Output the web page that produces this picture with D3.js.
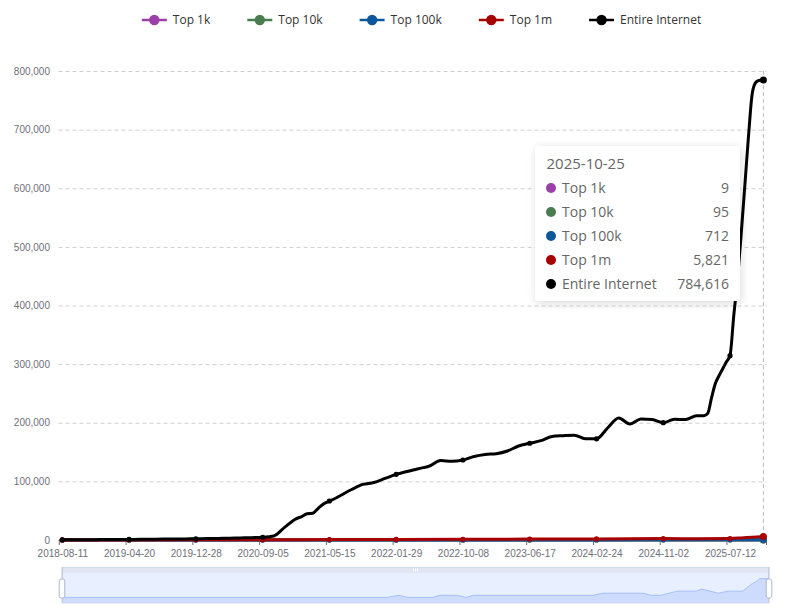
<!DOCTYPE html>
<html>
<head>
<meta charset="utf-8">
<script src="https://cdn.jsdelivr.net/npm/d3@7"></script>
<style>
  body { margin: 0; background: #fff; }
  svg { display: block; }
</style>
</head>
<body>
<svg id="chart"></svg>
<script>
// categories / ticks
const seriesNames = ["Top 1k", "Top 10k", "Top 100k", "Top 1m", "Entire Internet"]
const seriesColors = ["#9b3fa9", "#4b7c50", "#0c5799", "#a70000", "#000000"]
const tickIdx = [0, 36, 72, 108, 144, 180, 216, 252, 288, 324, 360]
const tickLabels = ["2018-08-11", "2019-04-20", "2019-12-28", "2020-09-05", "2021-05-15", "2022-01-29",
  "2022-10-08", "2023-06-17", "2024-02-24", "2024-11-02", "2025-07-12"]
const lastIdx = 378
const lastDate = "2025-10-25"
const yTicks = [0, 100000, 200000, 300000, 400000, 500000, 600000, 700000, 800000]

// Entire Internet (sampled weeks)
const entireIdx = [0, 6, 12, 18, 24, 30, 36, 42, 48, 54, 60, 66, 72, 78, 84, 90, 96, 102, 108, 114,
  120, 126, 129, 132, 135, 138, 141, 144, 147, 150, 156, 162, 168, 174, 180, 186, 192, 198, 204, 210,
  216, 222, 228, 234, 240, 246, 252, 258, 264, 270, 276, 282, 288, 294, 300, 306, 312, 318, 324, 330,
  336, 342, 346, 348, 350, 352, 354, 356, 358, 360, 362, 364, 366, 368, 370, 372, 374, 376, 378]
const entire = [300, 400, 500, 600, 700, 800, 900, 1100, 1300, 1500, 1700, 1900, 2100, 2400, 2700, 3100, 3500, 4000, 4600, 6800,
  22000, 36000, 40000, 44700, 45500, 54000, 62000, 66500, 70800, 75900, 86100, 94800, 98000, 105000, 112000, 116900, 121600, 126200, 135600, 134300,
  136500, 142400, 145900, 147200, 151800, 160400, 165000, 169400, 176600, 177900, 178800, 172800, 172600, 191000, 208100, 197900, 206400, 205500, 200100, 205900,
  205500, 212000, 212000, 216000, 242000, 266000, 279800, 291700, 303600, 314400, 382000, 443500, 521000, 605000, 690000, 762000, 781000, 784300, 784616]

// smaller series (sampled at ticks)
const smallIdx = [0, 36, 72, 108, 144, 180, 216, 252, 288, 324, 342, 360, 366, 372, 378]
const top1m = [80, 150, 250, 400, 650, 900, 1200, 1500, 1900, 2400, 2000, 2500, 3500, 4800, 5821]
const top100k = [10, 15, 25, 40, 60, 80, 110, 150, 200, 280, 260, 330, 420, 560, 712]
const top10k = [1, 2, 3, 5, 7, 9, 12, 16, 22, 30, 32, 40, 52, 72, 95]

// Top 1k (change points)
const top1kIdx = [0, 174, 180, 185, 198, 202, 211, 216, 220, 284, 289, 311, 315, 320, 329, 339, 342, 351, 356, 364, 368, 372, 373, 378]
const top1k = [0, 0, 1, 0, 0, 1, 1, 0, 1, 1, 2, 2, 1, 1, 3, 3, 4, 2, 3, 3, 6, 8, 9, 9]

const width = 796
const height = 615
const gridLeft = 58.5
const gridRight = 766.5
const gridTop = 71
const gridBottom = 540
const fontUI = "'Open Sans', 'Noto Sans', sans-serif"
const fontAxis = "'Liberation Sans', Arial, sans-serif"

const svg = d3.select("#chart")
  .attr("width", width)
  .attr("height", height)

const xScale = d3.scaleLinear().domain([0, lastIdx]).range([62.3, 763.4])
const yScale = d3.scaleLinear().domain([0, 800000]).range([gridBottom, gridTop])

const zip = (a, b) => a.map((d, i) => [d, b[i]])
const series = [
  zip(top1kIdx, top1k),
  zip(smallIdx, top10k),
  zip(smallIdx, top100k),
  zip(smallIdx, top1m),
  zip(entireIdx, entire)
]

// grid lines
svg.append("g")
  .selectAll("line")
  .data(yTicks.filter(d => d > 0))
  .enter()
  .append("line")
  .attr("x1", gridLeft)
  .attr("x2", gridRight)
  .attr("y1", d => yScale(d) + 0.5)
  .attr("y2", d => yScale(d) + 0.5)
  .attr("stroke", "#cfcfcf")
  .attr("stroke-dasharray", "4,3")

// y axis labels
let yAxis = d3.axisLeft(yScale)
  .tickValues(yTicks)
  .tickFormat(d3.format(","))
  .tickSize(0)
  .tickPadding(8.5)
let yG = svg.append("g")
  .attr("transform", "translate(" + gridLeft + ",0)")
  .call(yAxis)
yG.select(".domain").remove()
yG.selectAll("text")
  .attr("fill", "#6e7079")
  .style("font-family", fontAxis)
  .style("font-size", "10px")

// axis pointer
svg.append("line")
  .attr("x1", xScale(lastIdx))
  .attr("x2", xScale(lastIdx))
  .attr("y1", gridTop)
  .attr("y2", gridBottom)
  .attr("stroke", "#b9bec9")
  .attr("stroke-dasharray", "4,3")

// x axis
let xAxis = d3.axisBottom(xScale)
  .tickValues(tickIdx)
  .tickFormat((d, i) => tickLabels[i])
  .tickSize(5)
  .tickPadding(5)
let xG = svg.append("g")
  .attr("transform", "translate(0," + gridBottom + ")")
  .call(xAxis)
xG.select(".domain").remove()
xG.selectAll(".tick line")
  .attr("stroke", "#6e7079")
  .attr("transform", "translate(-3.5,0)")
xG.selectAll("text")
  .attr("fill", "#6e7079")
  .style("font-family", fontAxis)
  .style("font-size", "10px")
xG.append("line")
  .attr("x1", gridLeft)
  .attr("x2", gridRight)
  .attr("y1", 0.5)
  .attr("y2", 0.5)
  .attr("stroke", "#6e7079")
xG.append("line")
  .attr("x1", gridRight)
  .attr("x2", gridRight)
  .attr("y1", 0)
  .attr("y2", 5)
  .attr("stroke", "#6e7079")

// lines + markers
let line = d3.line()
  .x(d => xScale(d[0]))
  .y(d => yScale(d[1]))
  .curve(d3.curveMonotoneX)

series.forEach((data, s) => {
  let g = svg.append("g")
  g.append("path")
    .datum(data)
    .attr("d", line)
    .attr("fill", "none")
    .attr("stroke", seriesColors[s])
    .attr("stroke-width", 3)
    .attr("stroke-linejoin", "round")
    .attr("stroke-linecap", "round")
  g.selectAll("circle")
    .data(data.filter(d => tickIdx.includes(d[0]) || d[0] == lastIdx))
    .enter()
    .append("circle")
    .attr("cx", d => xScale(d[0]))
    .attr("cy", d => yScale(d[1]))
    .attr("r", d => d[0] == lastIdx ? 3.5 : 2.6)
    .attr("fill", seriesColors[s])
})

// data zoom slider
const sLeft = 62, sRight = 769, sTop = 573, sBottom = 603
let sx = d3.scaleLinear().domain([0, lastIdx]).range([sLeft, sRight])
let ext = d3.extent(top1k)
let pad = (ext[1] - ext[0]) * 0.3
let sy = d3.scaleLinear().domain([ext[0] - pad, ext[1] + pad]).range([sBottom, sTop])

let slider = svg.append("g")
slider.append("rect")
  .attr("x", sLeft).attr("y", 567)
  .attr("width", sRight - sLeft).attr("height", sTop - 567)
  .attr("fill", "#dfe5f2")
slider.append("rect")
  .attr("x", sLeft).attr("y", sTop)
  .attr("width", sRight - sLeft).attr("height", sBottom - sTop)
  .attr("fill", "#e8effe")
let shadow = zip(top1kIdx, top1k)
slider.append("path")
  .datum(shadow)
  .attr("d", d3.area().x(d => sx(d[0])).y0(sBottom).y1(d => sy(d[1])))
  .attr("fill", "#8fb0f7")
  .attr("fill-opacity", 0.3)
slider.append("path")
  .datum(shadow)
  .attr("d", d3.line().x(d => sx(d[0])).y(d => sy(d[1])))
  .attr("fill", "none")
  .attr("stroke", "#8fb0f7")
  .attr("stroke-width", 0.7)
slider.append("rect")
  .attr("x", sLeft + 0.5).attr("y", 567.5)
  .attr("width", sRight - sLeft - 1).attr("height", sBottom - 567.5)
  .attr("fill", "none")
  .attr("stroke", "#d2dbee")
// grip on move handle
;[-2, 0, 2].forEach(o => {
  slider.append("line")
    .attr("x1", (sLeft + sRight) / 2 + o).attr("x2", (sLeft + sRight) / 2 + o)
    .attr("y1", 568.5).attr("y2", 571.5)
    .attr("stroke", "#ffffff")
})
;[sLeft, sRight].forEach(x => {
  slider.append("line")
    .attr("x1", x).attr("x2", x)
    .attr("y1", 567).attr("y2", sBottom)
    .attr("stroke", "#acb8d1")
    .attr("stroke-width", 0.8)
  slider.append("rect")
    .attr("x", x - 2.8).attr("y", 579)
    .attr("width", 5.6).attr("height", 19)
    .attr("rx", 2)
    .attr("fill", "#fff")
    .attr("stroke", "#acb8d1")
})

// legend
let legend = svg.append("g")
let items = seriesNames.map((name, i) => {
  let g = legend.append("g")
  g.append("line")
    .attr("x1", 0).attr("x2", 25)
    .attr("y1", 20).attr("y2", 20)
    .attr("stroke", seriesColors[i])
    .attr("stroke-width", 2.5)
  g.append("circle")
    .attr("cx", 12.5).attr("cy", 20).attr("r", 5.2)
    .attr("fill", seriesColors[i])
  let t = g.append("text")
    .attr("x", 31).attr("y", 24.2)
    .attr("fill", "#333")
    .style("font-family", fontUI)
    .style("font-size", "12px")
    .text(name)
  return { g: g, w: 31 + t.node().getComputedTextLength() }
})
let gap = 37
let total = d3.sum(items, d => d.w) + gap * (items.length - 1)
let cursor = 421.5 - total / 2
items.forEach(it => {
  it.g.attr("transform", "translate(" + cursor + ",0)")
  cursor += it.w + gap
})

// tooltip
let defs = svg.append("defs")
let filter = defs.append("filter").attr("id", "shadow")
  .attr("x", "-20%").attr("y", "-20%").attr("width", "140%").attr("height", "140%")
filter.append("feDropShadow")
  .attr("dx", 1).attr("dy", 2).attr("stdDeviation", 4)
  .attr("flood-color", "#000").attr("flood-opacity", 0.15)

let tip = svg.append("g").attr("transform", "translate(535,146)")
tip.append("rect")
  .attr("width", 205).attr("height", 155)
  .attr("rx", 4)
  .attr("fill", "#fff")
  .attr("filter", "url(#shadow)")
tip.append("text")
  .attr("x", 11.5).attr("y", 23)
  .attr("fill", "#666")
  .style("font-family", fontUI)
  .style("font-size", "15px")
  .text(lastDate)
let lastVals = series.map(d => d[d.length - 1][1])
seriesNames.forEach((name, i) => {
  let cy = 42 + i * 24
  tip.append("circle")
    .attr("cx", 16).attr("cy", cy).attr("r", 5)
    .attr("fill", seriesColors[i])
  tip.append("text")
    .attr("x", 27).attr("y", cy + 5)
    .attr("fill", "#666")
    .style("font-family", fontUI)
    .style("font-size", "14px")
    .text(name)
  tip.append("text")
    .attr("x", 194).attr("y", cy + 5)
    .attr("text-anchor", "end")
    .attr("fill", "#666")
    .style("font-family", fontUI)
    .style("font-size", "14px")
    .text(d3.format(",")(lastVals[i]))
})
</script>
</body>
</html>
